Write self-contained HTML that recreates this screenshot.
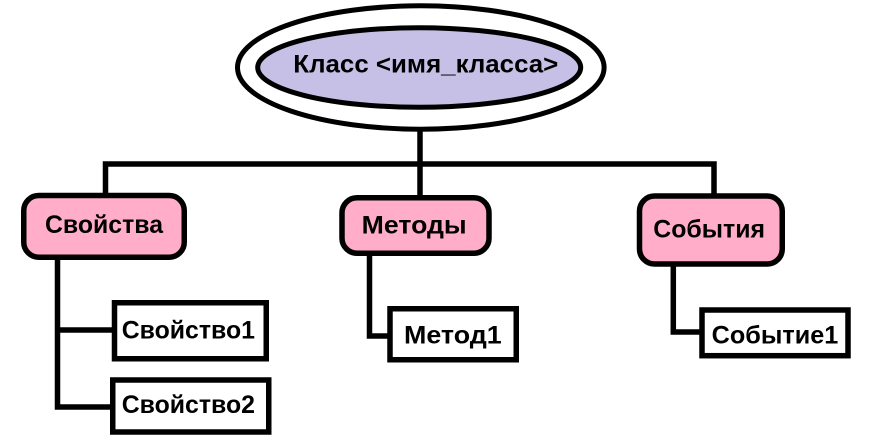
<!DOCTYPE html>
<html>
<head>
<meta charset="utf-8">
<style>
html,body{margin:0;padding:0;background:#fff;}
svg{display:block;}
text{font-family:"Liberation Sans","DejaVu Sans",sans-serif;font-weight:bold;font-size:25px;fill:#000;}
</style>
</head>
<body>
<svg width="876" height="443" viewBox="0 0 876 443" xmlns="http://www.w3.org/2000/svg">
  <rect x="0" y="0" width="876" height="443" fill="#fff"/>
  <g fill="none" stroke="#000" stroke-width="5.5" stroke-linejoin="miter" stroke-linecap="butt">
    <!-- connectors -->
    <line x1="420" y1="128" x2="420" y2="198"/>
    <path d="M105.5,196 V164 H714 V196"/>
    <path d="M57.5,258 V407 H113"/>
    <line x1="57.5" y1="330" x2="114" y2="330"/>
    <path d="M369.5,254 V336 H390"/>
    <path d="M673.3,264 V332 H702"/>
  </g>
  <!-- ellipses -->
  <ellipse cx="420.8" cy="67.5" rx="183.3" ry="61.7" fill="#fff" stroke="#000" stroke-width="5"/>
  <ellipse cx="419.2" cy="67.5" rx="161.5" ry="39.8" fill="#c6bfe6" stroke="#000" stroke-width="5"/>
  <text x="293.3" y="72.7" textLength="265" lengthAdjust="spacingAndGlyphs">Класс &lt;имя_класса&gt;</text>

  <!-- category boxes -->
  <g fill="#ffadc9" stroke="#000" stroke-width="5.5">
    <rect x="23.75" y="195.5" width="160.5" height="61.75" rx="15" ry="15"/>
    <rect x="342" y="197.75" width="147" height="55.5" rx="15" ry="15"/>
    <rect x="639.5" y="196" width="142.75" height="68" rx="15" ry="15"/>
  </g>
  <text x="45" y="233" textLength="118" lengthAdjust="spacingAndGlyphs">Свойства</text>
  <text x="361.7" y="233.3" textLength="105" lengthAdjust="spacingAndGlyphs">Методы</text>
  <text x="653.3" y="237.3" textLength="111.7" lengthAdjust="spacingAndGlyphs">События</text>

  <!-- leaf boxes -->
  <g fill="#fff" stroke="#000" stroke-width="5.5">
    <rect x="114.5" y="302.75" width="151.75" height="56"/>
    <rect x="112.75" y="380" width="156" height="52"/>
    <rect x="390" y="308.75" width="126.25" height="51"/>
    <rect x="702" y="310" width="146" height="45.7"/>
  </g>
  <text x="121.7" y="338.3" textLength="133.3" lengthAdjust="spacingAndGlyphs">Свойство1</text>
  <text x="121.7" y="413" textLength="133.3" lengthAdjust="spacingAndGlyphs">Свойство2</text>
  <text x="404" y="343.3" textLength="97.7" lengthAdjust="spacingAndGlyphs">Метод1</text>
  <text x="711.7" y="343.3" textLength="126.6" lengthAdjust="spacingAndGlyphs">Событие1</text>
</svg>
</body>
</html>
